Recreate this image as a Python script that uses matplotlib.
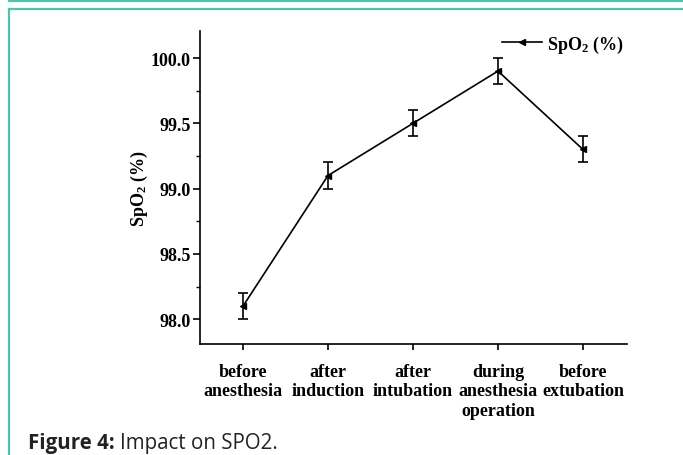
import matplotlib
matplotlib.use("Agg")
import matplotlib.pyplot as plt
from matplotlib.lines import Line2D
from matplotlib.ticker import MultipleLocator

plt.rcParams["mathtext.fontset"] = "custom"
plt.rcParams["mathtext.rm"] = "Liberation Serif:bold"
plt.rcParams["mathtext.bf"] = "Liberation Serif:bold"
plt.rcParams["mathtext.it"] = "Liberation Serif:bold"
plt.rcParams["mathtext.default"] = "rm"

categories = ["before\nanesthesia", "after\ninduction", "after\nintubation",
              "during\nanesthesia\noperation", "before\nextubation"]
spo2 = [98.1, 99.1, 99.5, 99.9, 99.3]
spo2_err = [0.1, 0.1, 0.1, 0.1, 0.1]
yticks = [98.0, 98.5, 99.0, 99.5, 100.0]

W, H = 683, 456
fig = plt.figure(figsize=(W / 100, H / 100), dpi=100)
fig.patch.set_facecolor("white")

teal = "#4cc4b0"
fig.add_artist(Line2D([8.5 / W, 1.0], [1 - 1.5 / H, 1 - 1.5 / H], color=teal, lw=1.6))
fig.add_artist(Line2D([8.5 / W, 1.0], [1 - 9.5 / H, 1 - 9.5 / H], color=teal, lw=1.6))
fig.add_artist(Line2D([8.5 / W, 8.5 / W], [0, 1 - 9.5 / H], color=teal, lw=1.6))

ax = fig.add_axes([200 / W, 111 / H, 427 / W, 313 / H])
x = list(range(len(categories)))
serif = ["Liberation Serif", "DejaVu Serif"]
fs = 13

ax.errorbar(x, spo2, yerr=spo2_err, color="black", lw=1.2, marker="<", ms=5,
            capsize=3.5, capthick=1.2, elinewidth=1.2)

ax.set_xlim(-0.506, 4.518)
ax.set_ylim(97.81, 100.207)
ax.set_yticks(yticks)
ax.yaxis.set_minor_locator(MultipleLocator(0.25))
ax.set_xticks(x)
ax.set_xticklabels(categories, fontfamily=serif, fontweight="bold", fontsize=fs,
                   linespacing=1.2)
ax.set_yticklabels([f"{v:.1f}" for v in yticks], fontfamily=serif, fontweight="bold",
                   fontsize=fs)

for s in ["top", "right"]:
    ax.spines[s].set_visible(False)
for s in ["left", "bottom"]:
    ax.spines[s].set_linewidth(1.2)
ax.tick_params(axis="y", which="major", length=5, width=1.2, pad=1.5, direction="out")
ax.tick_params(axis="y", which="minor", length=3, width=1.0, direction="out")
ax.tick_params(axis="x", which="major", length=4.5, width=1.2, pad=9, direction="out")

ax.set_ylabel("SpO$_2$ (%)", fontfamily=serif, fontweight="bold",
              fontsize=fs, labelpad=0.5)

handle = Line2D([], [], color="black", lw=1.2, marker="<", ms=5)
ax.legend([handle], ["SpO$_2$ (%)"], loc="upper right", bbox_to_anchor=(1.01, 1.015),
          frameon=False, prop={"family": serif, "weight": "bold", "size": fs},
          handlelength=2.2, handletextpad=0.3, borderaxespad=0.0)

t1 = fig.text(28 / W, 1 - 449 / H, "Figure 4:", fontfamily="Open Sans", fontweight="bold",
              fontsize=14.8, color="#222222", va="baseline", ha="left")
fig.canvas.draw()
bb = t1.get_window_extent()
fig.text((bb.x1 + 5) / W, 1 - 449 / H, "Impact on SPO2.", fontfamily="Open Sans",
         fontsize=14.8, color="#222222", va="baseline", ha="left")

fig.savefig("out.png", dpi=100)
